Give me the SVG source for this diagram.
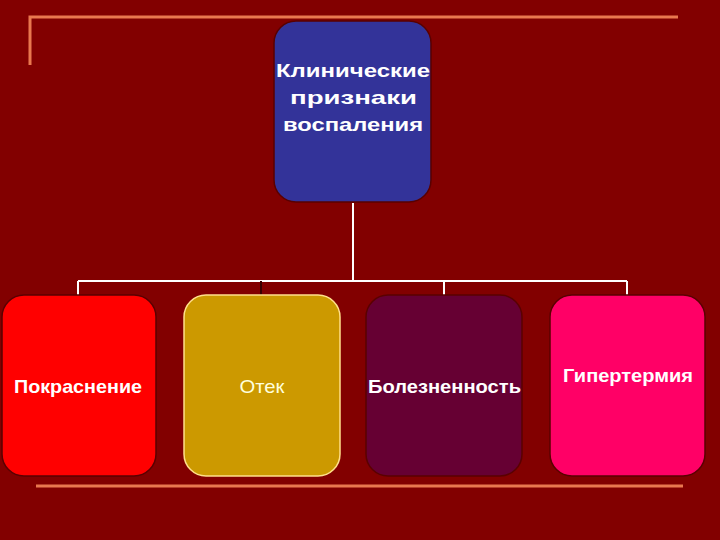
<svg xmlns="http://www.w3.org/2000/svg" width="720" height="540" viewBox="0 0 720 540">
<style>
.frame{stroke:#E9784F;stroke-width:3;fill:none}
.conn{stroke:#FFFFFF;stroke-width:2;fill:none}
.box{stroke:#5a0000;stroke-width:1.5}
.t{font-family:"Liberation Sans",Arial,sans-serif;fill:#FFFFFF;text-anchor:middle}
.b{font-weight:bold}
</style>
<rect width="720" height="540" fill="#820000"/>
<path class="frame" d="M30 65 V17 H678"/>
<path class="frame" d="M36 486 H683"/>
<g id="connectors">
<path class="conn" d="M353 203 V281"/>
<path class="conn" d="M78 281 H627"/>
<path class="conn" d="M78 281 V295"/>
<path d="M261 281 V295" stroke="#3a0000" stroke-width="2"/>
<path class="conn" d="M444 281 V295"/>
<path class="conn" d="M627 281 V295"/>
</g>
<g id="root">
<rect class="box" x="274" y="21" width="157" height="181" rx="22" fill="#333399" stroke="#2a0020"/>
<text class="t b" x="353" y="77" font-size="19" textLength="154" lengthAdjust="spacingAndGlyphs">Клинические</text>
<text class="t b" x="353.5" y="104" font-size="19" textLength="127" lengthAdjust="spacingAndGlyphs">признаки</text>
<text class="t b" x="353" y="131" font-size="19" textLength="140" lengthAdjust="spacingAndGlyphs">воспаления</text>
</g>
<g id="n1">
<rect class="box" x="2" y="295" width="154" height="181" rx="22" fill="#FF0000"/>
<text class="t b" x="78" y="393" font-size="19" textLength="128" lengthAdjust="spacingAndGlyphs">Покраснение</text>
</g>
<g id="n2">
<rect x="184" y="295" width="156" height="181" rx="22" fill="#CC9900" stroke="#FFE08A" stroke-width="1.5"/>
<text class="t" x="262" y="393" font-size="19" style="fill:#FFFFDD" textLength="45" lengthAdjust="spacingAndGlyphs">Отек</text>
</g>
<g id="n3">
<rect class="box" x="366" y="295" width="156" height="181" rx="22" fill="#660033"/>
<text class="t b" x="444.5" y="393" font-size="19" textLength="153" lengthAdjust="spacingAndGlyphs">Болезненность</text>
</g>
<g id="n4">
<rect class="box" x="550" y="295" width="155" height="181" rx="22" fill="#FF0066"/>
<text class="t b" x="628" y="382" font-size="19" textLength="130" lengthAdjust="spacingAndGlyphs">Гипертермия</text>
</g>
</svg>
